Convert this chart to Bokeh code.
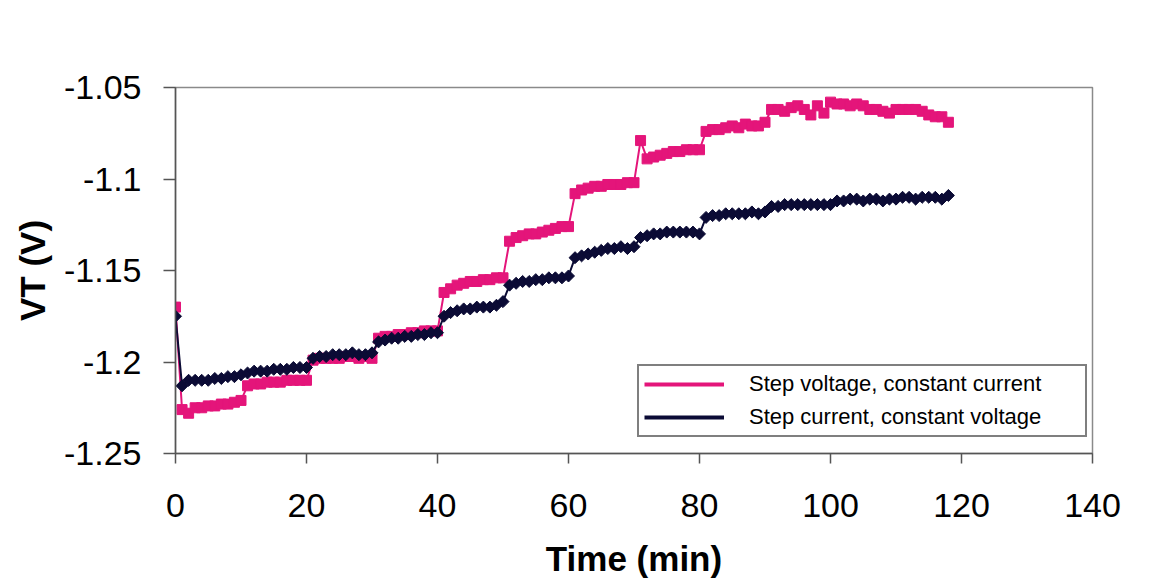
import numpy as np
from bokeh.plotting import figure
from bokeh.models import ColumnDataSource, FixedTicker, CustomJSTickFormatter, Legend, LegendItem
from bokeh.embed import file_html
from bokeh.resources import INLINE

time_min = list(range(0, 119))

step_voltage = [
    -1.170, -1.226, -1.228, -1.225, -1.225, -1.224, -1.224, -1.223, -1.223, -1.222,
    -1.221, -1.213, -1.212, -1.212, -1.211, -1.211, -1.211, -1.210, -1.210, -1.210,
    -1.210, -1.199, -1.198, -1.198, -1.198, -1.198, -1.197, -1.197, -1.198, -1.197,
    -1.198, -1.187, -1.186, -1.186, -1.185, -1.185, -1.184, -1.184, -1.183, -1.183,
    -1.183, -1.162, -1.160, -1.158, -1.157, -1.156, -1.156, -1.155, -1.155, -1.154,
    -1.154, -1.134, -1.132, -1.131, -1.130, -1.130, -1.129, -1.128, -1.127, -1.126,
    -1.126, -1.108, -1.106, -1.105, -1.104, -1.104, -1.103, -1.103, -1.103, -1.102,
    -1.102, -1.079, -1.089, -1.088, -1.087, -1.086, -1.085, -1.085, -1.084, -1.084,
    -1.084, -1.074, -1.073, -1.073, -1.072, -1.071, -1.072, -1.070, -1.071, -1.071,
    -1.069, -1.062, -1.062, -1.063, -1.061, -1.060, -1.062, -1.065, -1.060, -1.064,
    -1.058, -1.059, -1.059, -1.060, -1.059, -1.060, -1.062, -1.062, -1.063, -1.064,
    -1.062, -1.062, -1.062, -1.062, -1.063, -1.065, -1.066, -1.066, -1.069,
]

step_current = [
    -1.175, -1.213, -1.210, -1.210, -1.210, -1.210, -1.209, -1.209, -1.208, -1.208,
    -1.207, -1.206, -1.205, -1.205, -1.205, -1.204, -1.204, -1.204, -1.203, -1.203,
    -1.203, -1.198, -1.197, -1.197, -1.196, -1.196, -1.196, -1.195, -1.196, -1.196,
    -1.195, -1.189, -1.188, -1.187, -1.187, -1.186, -1.186, -1.185, -1.185, -1.184,
    -1.184, -1.175, -1.173, -1.172, -1.171, -1.171, -1.170, -1.170, -1.170, -1.169,
    -1.167, -1.158, -1.157, -1.156, -1.156, -1.155, -1.155, -1.154, -1.154, -1.154,
    -1.153, -1.143, -1.142, -1.141, -1.140, -1.139, -1.138, -1.138, -1.137, -1.138,
    -1.137, -1.132, -1.131, -1.130, -1.130, -1.129, -1.129, -1.129, -1.129, -1.129,
    -1.130, -1.121, -1.120, -1.120, -1.119, -1.119, -1.119, -1.119, -1.118, -1.119,
    -1.118, -1.115, -1.115, -1.114, -1.114, -1.114, -1.114, -1.114, -1.114, -1.114,
    -1.114, -1.112, -1.112, -1.111, -1.111, -1.112, -1.111, -1.111, -1.112, -1.111,
    -1.111, -1.110, -1.110, -1.111, -1.110, -1.110, -1.110, -1.111, -1.109,
]

labels = ["Step voltage, constant current", "Step current, constant voltage"]
x_ticks = [0, 20, 40, 60, 80, 100, 120, 140]
y_ticks = [-1.25, -1.2, -1.15, -1.1, -1.05]

PINK = "#E4157A"
NAVY = "#0B0B35"
FONT = "Liberation Sans"

src = ColumnDataSource(dict(t=time_min, sv=step_voltage, sc=step_current))

p = figure(width=1167, height=588, x_range=(0, 140), y_range=(-1.25, -1.05),
           output_backend="svg", toolbar_location=None,
           min_border_left=175, min_border_right=75, min_border_top=87, min_border_bottom=135)
p.background_fill_color = "white"
p.border_fill_color = "white"
p.outline_line_color = "#8a8a8a"
p.outline_line_width = 1.5
p.xgrid.visible = False
p.ygrid.visible = False

p.line("t", "sv", source=src, line_color=PINK, line_width=2)
p.scatter("t", "sv", source=src, marker="square", size=10, fill_color=PINK, line_color=PINK)
p.line("t", "sc", source=src, line_color=NAVY, line_width=2)
p.scatter("t", "sc", source=src, marker="square", angle=np.pi / 4, size=8.5,
          fill_color=NAVY, line_color=NAVY)

# legend samples (thicker lines, as in the original legend); NaN points draw nothing in the plot
blank = ColumnDataSource(dict(t=[np.nan], v=[np.nan]))
lg1 = p.line("t", "v", source=blank, line_color=PINK, line_width=4)
lg2 = p.line("t", "v", source=blank, line_color=NAVY, line_width=4)

legend = Legend(items=[LegendItem(label=labels[0], renderers=[lg1]),
                       LegendItem(label=labels[1], renderers=[lg2])],
                location=(462, 16), padding=5, spacing=7, label_height=24,
                glyph_width=80, glyph_height=24, label_standoff=25, label_width=331,
                label_text_font=FONT, label_text_font_size="22px", label_text_color="black",
                border_line_color="black", border_line_width=2,
                background_fill_color="white", background_fill_alpha=1.0, margin=0)
p.add_layout(legend, "center")

for ax in (p.xaxis[0], p.yaxis[0]):
    ax.axis_line_color = "#555555"
    ax.axis_line_width = 1.5
    ax.major_tick_line_color = "#555555"
    ax.major_tick_line_width = 1.5
    ax.major_tick_in = 0
    ax.minor_tick_line_color = None
    ax.major_label_text_font = FONT
    ax.major_label_text_font_size = "34px"
    ax.major_label_text_color = "black"
    ax.axis_label_text_font = FONT
    ax.axis_label_text_font_size = "35px"
    ax.axis_label_text_font_style = "bold"
    ax.axis_label_text_color = "black"

p.xaxis.ticker = FixedTicker(ticks=x_ticks)
p.xaxis.major_tick_out = 10
p.xaxis.major_label_standoff = 30
p.xaxis.axis_label = "Time (min)"
p.xaxis.axis_label_standoff = 19

p.yaxis.ticker = FixedTicker(ticks=y_ticks)
p.yaxis.formatter = CustomJSTickFormatter(code="return String(Number(tick.toFixed(2)));")
p.yaxis.major_tick_out = 12
p.yaxis.major_label_standoff = 22
p.yaxis.axis_label = "VT (V)"
p.yaxis.axis_label_standoff = 9

open("out.html", "w").write(file_html(p, INLINE))
